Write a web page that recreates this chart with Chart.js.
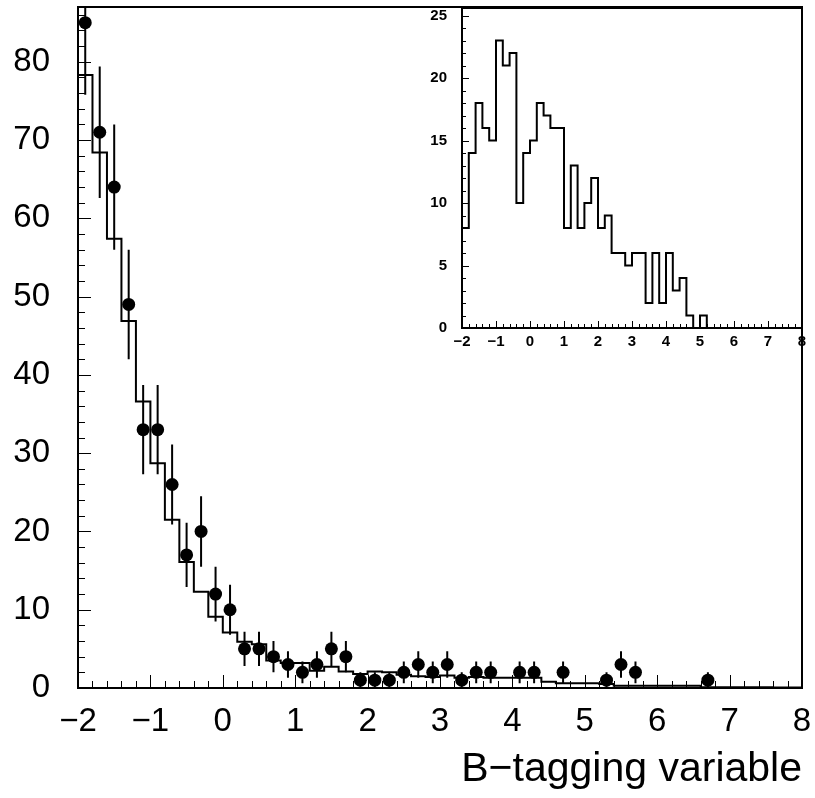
<!DOCTYPE html>
<html>
<head>
<meta charset="utf-8">
<script src="https://cdn.jsdelivr.net/npm/chart.js@4.4.1/dist/chart.umd.min.js"></script>
<style>
html, body { margin: 0; padding: 0; background: #fff; }
#wrap { position: relative; width: 815px; height: 798px; }
#mainChart { position: absolute; left: 0; top: 0; }
#insetChart { position: absolute; left: 400px; top: 0; }
</style>
</head>
<body>
<div id="wrap">
  <canvas id="mainChart" width="815" height="798"></canvas>
  <canvas id="insetChart" width="415" height="360"></canvas>
</div>
<script>
// bin edges (0.2 wide) shared by both histograms
const binEdges = [-2.0, -1.8, -1.6, -1.4, -1.2, -1.0, -0.8, -0.6, -0.4, -0.2,
                   0.0,  0.2,  0.4,  0.6,  0.8,  1.0,  1.2,  1.4,  1.6,  1.8,
                   2.0,  2.2,  2.4,  2.6,  2.8,  3.0,  3.2,  3.4,  3.6,  3.8,
                   4.0,  4.2,  4.4,  4.6,  4.8,  5.0,  5.2,  5.4,  5.6,  5.8,
                   6.0,  6.2,  6.4,  6.6,  6.8,  7.0,  7.2,  7.4,  7.6,  7.8, 8.0];

// simulation histogram of the main plot, one value per bin
const mcValues = [78.3, 68.4, 57.4, 46.9, 36.6, 28.7, 21.5, 16.1, 12.3, 9.1,
                  7.1, 5.9, 5.6, 3.5, 3.2, 3.2, 2.2, 2.7, 2.1, 1.8,
                  2.1, 2.0, 1.7, 1.5, 1.4, 1.6, 1.3, 1.4, 1.3, 1.3,
                  1.3, 1.3, 0.8, 0.6, 0.6, 0.6, 0.5, 0.3, 0.3, 0.3,
                  0.3, 0.3, 0.3, 0.1, 0.1, 0.1, 0.1, 0.1, 0.05, 0.05];

// measured points (bin centres), counts and errors
const dataX = [-1.9, -1.7, -1.5, -1.3, -1.1, -0.9, -0.7, -0.5, -0.3, -0.1,
               0.1, 0.3, 0.5, 0.7, 0.9, 1.1, 1.3, 1.5, 1.7, 1.9,
               2.1, 2.3, 2.5, 2.7, 2.9, 3.1, 3.3, 3.5, 3.7, 4.1,
               4.3, 4.7, 5.3, 5.5, 5.7, 6.7];
const dataY = [85, 71, 64, 49, 33, 33, 26, 17, 20, 12,
               10, 5, 5, 4, 3, 2, 3, 5, 4, 1,
               1, 1, 2, 3, 2, 3, 1, 2, 2, 2,
               2, 2, 1, 3, 2, 1];
const dataErr = [9.2, 8.4, 8.0, 7.0, 5.7, 5.7, 5.1, 4.1, 4.5, 3.5,
                 3.2, 2.2, 2.2, 2.0, 1.7, 1.4, 1.7, 2.2, 2.0, 1.0,
                 1.0, 1.0, 1.4, 1.7, 1.4, 1.7, 1.0, 1.4, 1.4, 1.4,
                 1.4, 1.4, 1.0, 1.7, 1.4, 1.0];

// inset histogram, one value per bin
const insetValues = [8, 14, 18, 16, 15, 23, 21, 22, 10, 14,
                     15, 18, 17, 16, 16, 8, 13, 8, 10, 12,
                     8, 9, 6, 6, 5, 6, 6, 2, 6, 2,
                     6, 3, 4, 1, 0, 1, 0, 0, 0, 0,
                     0, 0, 0, 0, 0, 0, 0, 0, 0, 0];

const mainXTicks = [-2, -1, 0, 1, 2, 3, 4, 5, 6, 7, 8];
const mainYTicks = [0, 10, 20, 30, 40, 50, 60, 70, 80];
const insetXTicks = [-2, -1, 0, 1, 2, 3, 4, 5, 6, 7, 8];
const insetYTicks = [0, 5, 10, 15, 20, 25];

const fmt = v => v < 0 ? '\u2212' + Math.abs(v) : String(v);

function stepPoints(values) {
    let pts = values.map((v, i) => ({ x: binEdges[i], y: v }));
    pts.push({ x: binEdges[binEdges.length - 1], y: values[values.length - 1] });
    return pts;
}

/** fixed axis sizes, no label padding added by the layout */
function fixSize(prop, size) {
    return s => {
        s[prop] = size;
        s.paddingTop = 0; s.paddingBottom = 0;
        s.paddingLeft = 0; s.paddingRight = 0;
    };
}

/** frame and inward ticks drawn from the chart scales */
function framePlugin(cfg) {
    return {
        id: 'frame',
        afterDraw(chart) {
            const ctx = chart.ctx, a = chart.chartArea;
            const sx = chart.scales.x, sy = chart.scales.y;
            ctx.save();
            ctx.strokeStyle = '#000';
            ctx.lineWidth = 1;
            ctx.beginPath();
            for (let v = sx.min; v <= sx.max + 1e-6; v += cfg.xMinor) {
                const px = Math.round(sx.getPixelForValue(v)) + 0.5;
                const major = Math.abs(v - Math.round(v)) < 1e-6;
                ctx.moveTo(px, a.bottom);
                ctx.lineTo(px, a.bottom - (major ? cfg.majorLen : cfg.minorLen));
            }
            for (let v = 0; v <= sy.max + 1e-6; v += cfg.yMinor) {
                const py = Math.round(sy.getPixelForValue(v)) + 0.5;
                const major = Math.abs(v / cfg.yMajor - Math.round(v / cfg.yMajor)) < 1e-6;
                ctx.moveTo(a.left, py);
                ctx.lineTo(a.left + (major ? cfg.majorLen : cfg.minorLen), py);
            }
            ctx.stroke();
            ctx.lineWidth = 2;
            ctx.strokeRect(a.left, a.top, a.right - a.left, a.bottom - a.top);
            ctx.restore();
        }
    };
}

const errorBars = {
    id: 'errorBars',
    beforeDatasetsDraw(chart) {
        const ctx = chart.ctx, a = chart.chartArea;
        const sx = chart.scales.x, sy = chart.scales.y;
        ctx.save();
        ctx.beginPath();
        ctx.rect(a.left, a.top, a.right - a.left, a.bottom - a.top);
        ctx.clip();
        ctx.strokeStyle = '#000';
        ctx.lineWidth = 2;
        ctx.beginPath();
        dataX.forEach((x, i) => {
            const px = sx.getPixelForValue(x);
            ctx.moveTo(px, sy.getPixelForValue(dataY[i] - dataErr[i]));
            ctx.lineTo(px, sy.getPixelForValue(dataY[i] + dataErr[i]));
        });
        ctx.stroke();
        ctx.restore();
    }
};

const font = 'Liberation Sans, Arial, sans-serif';

new Chart(document.getElementById('mainChart').getContext('2d'), {
    type: 'scatter',
    data: {
        datasets: [{
            type: 'line',
            data: stepPoints(mcValues),
            stepped: true,
            borderColor: '#000',
            borderWidth: 2,
            pointRadius: 0,
            fill: false
        }, {
            data: dataX.map((x, i) => ({ x: x, y: dataY[i] })),
            backgroundColor: '#000',
            borderWidth: 0,
            pointRadius: 6.5
        }]
    },
    options: {
        responsive: false,
        animation: false,
        layout: { padding: { top: 7, right: 13, left: 0, bottom: 0 } },
        plugins: { legend: { display: false }, tooltip: { enabled: false } },
        scales: {
            x: {
                type: 'linear', min: -2, max: 8,
                grid: { display: false, drawTicks: false }, border: { display: false },
                afterBuildTicks: s => { s.ticks = mainXTicks.map(v => ({ value: v })); },
                afterFit: fixSize('height', 110),
                ticks: { font: { family: font, size: 33 }, color: '#000', padding: 14,
                         maxRotation: 0, autoSkip: false, callback: v => fmt(v) },
                title: { display: true, text: 'B\u2212tagging variable', align: 'end', color: '#000',
                         font: { family: font, size: 41 }, padding: { top: 0, bottom: 4 } }
            },
            y: {
                min: 0, max: 87,
                grid: { display: false, drawTicks: false }, border: { display: false },
                afterBuildTicks: s => { s.ticks = mainYTicks.map(v => ({ value: v })); },
                afterFit: fixSize('width', 78),
                ticks: { font: { family: font, size: 33 }, color: '#000', padding: 28, callback: v => fmt(v) }
            }
        }
    },
    plugins: [errorBars, framePlugin({ xMinor: 0.2, yMinor: 2, yMajor: 10, majorLen: 13, minorLen: 7 })]
});

new Chart(document.getElementById('insetChart').getContext('2d'), {
    type: 'line',
    data: {
        datasets: [{
            data: stepPoints(insetValues),
            stepped: true,
            borderColor: '#000',
            borderWidth: 2,
            pointRadius: 0,
            fill: false
        }]
    },
    options: {
        responsive: false,
        animation: false,
        layout: { padding: { top: 8, right: 13, left: 0, bottom: 0 } },
        plugins: { legend: { display: false }, tooltip: { enabled: false } },
        scales: {
            x: {
                type: 'linear', min: -2, max: 8,
                grid: { display: false, drawTicks: false }, border: { display: false },
                afterBuildTicks: s => { s.ticks = insetXTicks.map(v => ({ value: v })); },
                afterFit: fixSize('height', 32),
                ticks: { font: { family: font, size: 15, weight: 'bold' }, color: '#000', padding: 5,
                         maxRotation: 0, autoSkip: false, callback: v => fmt(v) }
            },
            y: {
                min: 0, max: 25.6,
                grid: { display: false, drawTicks: false }, border: { display: false },
                afterBuildTicks: s => { s.ticks = insetYTicks.map(v => ({ value: v })); },
                afterFit: fixSize('width', 62),
                ticks: { font: { family: font, size: 15, weight: 'bold' }, color: '#000', padding: 15, callback: v => fmt(v) }
            }
        }
    },
    plugins: [framePlugin({ xMinor: 0.2, yMinor: 1, yMajor: 5, majorLen: 7, minorLen: 4 })]
});
</script>
</body>
</html>
